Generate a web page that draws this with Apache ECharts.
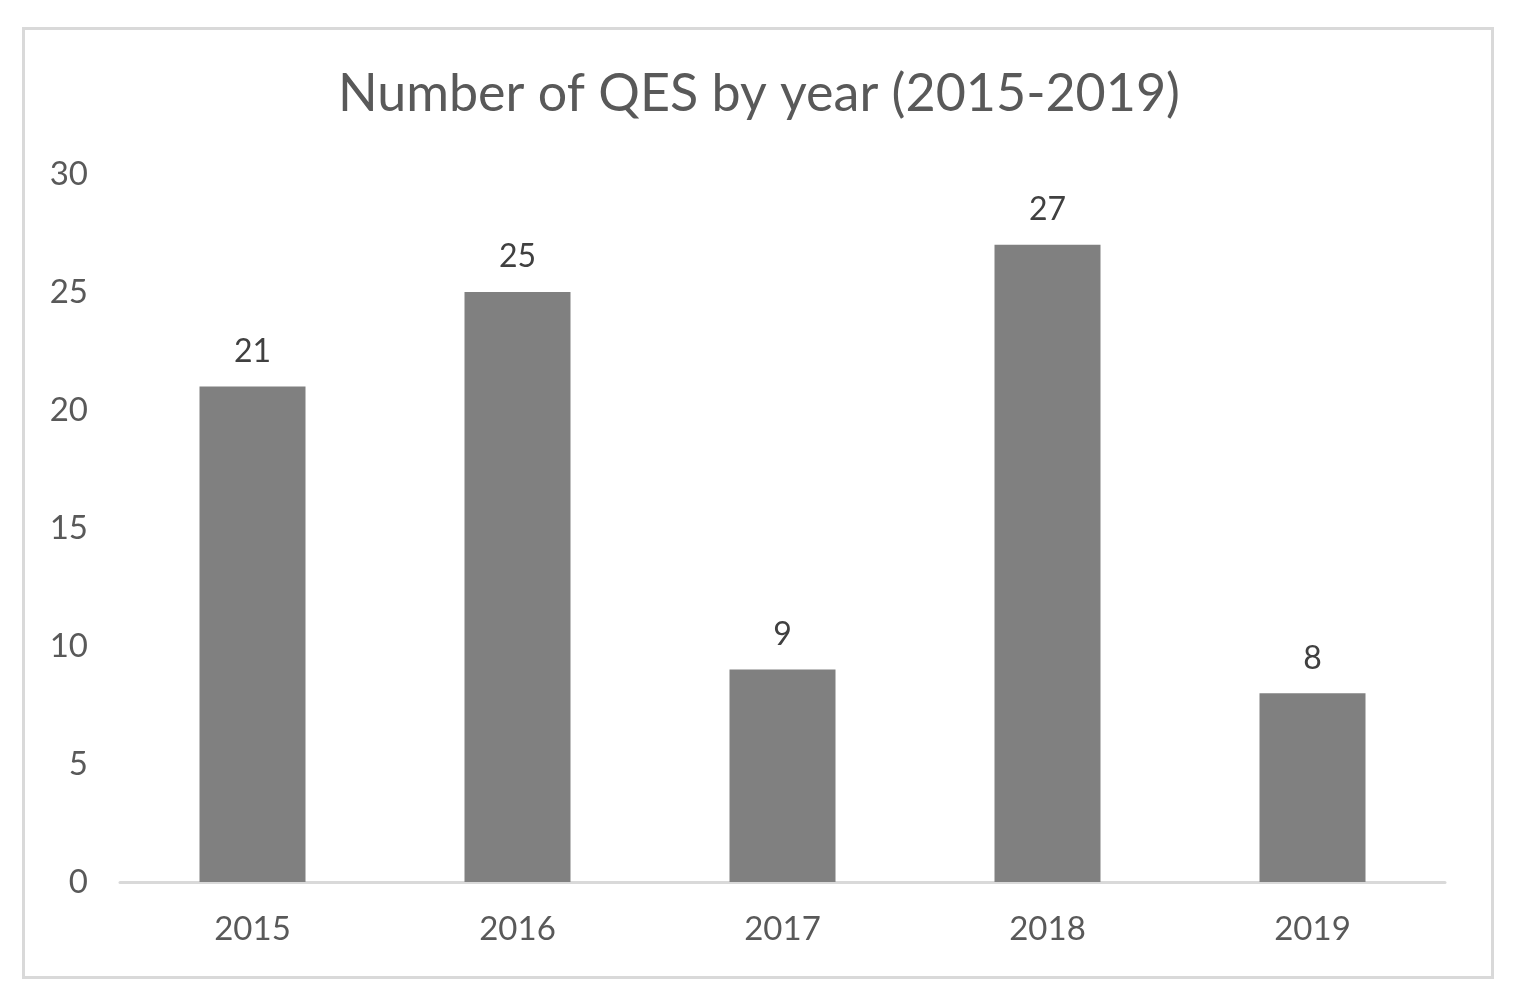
<!DOCTYPE html>
<html><head><meta charset="utf-8">
<script src="https://cdn.jsdelivr.net/npm/echarts@6/dist/echarts.min.js"></script>
<style>html,body{margin:0;padding:0;background:#fff}#c{width:1524px;height:997px}</style>
</head><body><div id="c"></div>
<script>
const titleText = 'Number of QES by year (2015-2019)';
const categories = ['2015','2016','2017','2018','2019'];
const values = [21, 25, 9, 27, 8];
const yTicks = [0, 5, 10, 15, 20, 25, 30];

const font = 'Lato';
const chart = echarts.init(document.getElementById('c'));
chart.setOption({
  backgroundColor: '#fff',
  animation: false,
  graphic: [{
    type: 'rect', left: 21, top: 26,
    shape: { width: 1469, height: 949 },
    style: { fill: 'none', stroke: '#d9d9d9', lineWidth: 3 }
  }],
  title: {
    text: titleText, left: 333, top: 63,
    textStyle: { fontFamily: font, fontSize: 52, fontWeight: 'normal', color: '#595959' }
  },
  grid: { left: 120, right: 79, top: 174, bottom: 115 },
  xAxis: {
    type: 'category', data: categories,
    axisLine: { lineStyle: { color: '#d9d9d9', width: 3 } },
    axisTick: { show: false },
    axisLabel: { margin: 31, fontFamily: font, fontSize: 33, color: '#595959' }
  },
  yAxis: {
    type: 'value', min: yTicks[0], max: yTicks[yTicks.length-1], interval: 5,
    axisLine: { show: false }, axisTick: { show: false },
    splitLine: { show: false },
    axisLabel: { margin: 32, fontFamily: font, fontSize: 33, color: '#595959' }
  },
  series: [{
    type: 'bar', data: values, barCategoryGap: '60%',
    itemStyle: { color: '#808080' },
    label: { show: true, position: 'top', distance: 19, fontFamily: font, fontSize: 32, color: '#404040' }
  }]
});
</script></body></html>
